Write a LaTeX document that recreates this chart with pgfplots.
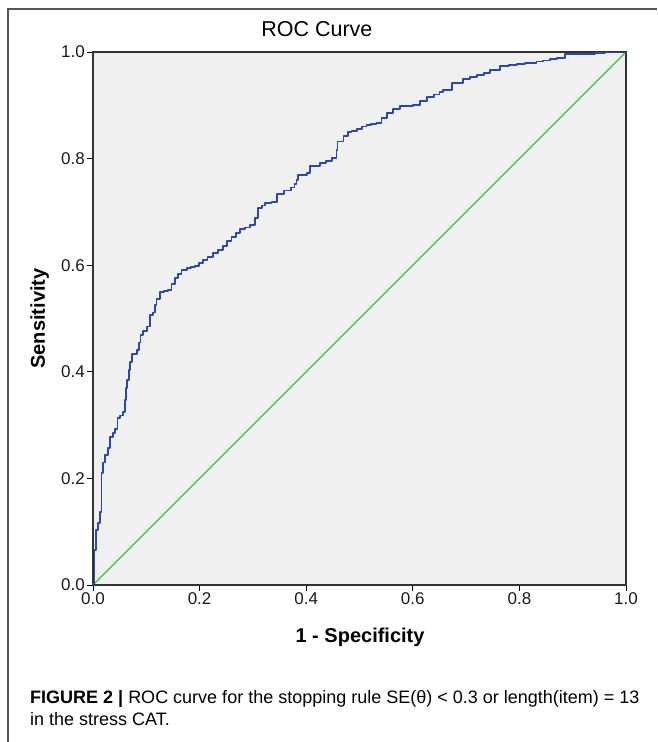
\documentclass[border=0pt]{standalone}
\usepackage{fontspec}
\setmainfont{Liberation Sans}
\usepackage{pgfplots}
\pgfplotsset{compat=1.18}
\definecolor{roccurve}{RGB}{44,70,170}
\definecolor{refline}{RGB}{62,190,72}
\definecolor{plotbg}{RGB}{240,240,240}
\definecolor{framegray}{RGB}{85,85,85}

% ROC points (1 - specificity, sensitivity)
\pgfplotstableread{
x y
0.000 0.000
0.003 0.066
0.005 0.103
0.009 0.116
0.013 0.137
0.016 0.210
0.019 0.230
0.022 0.244
0.028 0.257
0.032 0.278
0.038 0.285
0.041 0.293
0.046 0.313
0.051 0.318
0.056 0.325
0.060 0.347
0.062 0.370
0.064 0.385
0.068 0.403
0.070 0.418
0.073 0.433
0.082 0.441
0.086 0.455
0.089 0.469
0.094 0.477
0.101 0.485
0.107 0.507
0.113 0.511
0.116 0.525
0.119 0.537
0.126 0.550
0.133 0.551
0.141 0.553
0.147 0.565
0.154 0.576
0.160 0.583
0.166 0.591
0.176 0.595
0.184 0.597
0.191 0.598
0.199 0.604
0.206 0.610
0.215 0.616
0.225 0.623
0.235 0.629
0.244 0.636
0.252 0.645
0.260 0.653
0.268 0.661
0.276 0.668
0.285 0.671
0.295 0.675
0.304 0.689
0.310 0.707
0.317 0.712
0.323 0.717
0.335 0.718
0.345 0.733
0.358 0.740
0.372 0.746
0.378 0.752
0.382 0.760
0.385 0.769
0.401 0.773
0.407 0.786
0.426 0.792
0.437 0.796
0.448 0.801
0.457 0.816
0.459 0.832
0.470 0.842
0.478 0.850
0.485 0.852
0.495 0.856
0.505 0.860
0.513 0.863
0.522 0.865
0.532 0.867
0.541 0.876
0.551 0.886
0.563 0.893
0.576 0.899
0.600 0.900
0.613 0.908
0.626 0.916
0.640 0.920
0.650 0.925
0.657 0.929
0.673 0.942
0.694 0.949
0.707 0.953
0.720 0.957
0.733 0.961
0.745 0.966
0.764 0.974
0.780 0.975
0.795 0.977
0.810 0.979
0.820 0.980
0.832 0.982
0.844 0.984
0.857 0.987
0.870 0.989
0.886 0.996
0.942 0.998
0.960 1.000
1.000 1.000
}\roctable

\begin{document}
\begin{tikzpicture}[x=1pt,y=1pt]
\useasboundingbox (0,0) rectangle (657,-742);
\draw[framegray, line width=1.2pt] (8,-742) -- (8,-9) -- (657,-9);
\begin{axis}[
  at={(93pt,-585pt)}, anchor=south west,
  scale only axis, width=533pt, height=533pt,
  xmin=0, xmax=1, ymin=0, ymax=1,
  axis background/.style={fill=plotbg},
  axis line style={black!80, line width=1.3pt},
  xtick={0,0.2,0.4,0.6,0.8,1}, ytick={0,0.2,0.4,0.6,0.8,1},
  xtick pos=bottom, ytick pos=left, tick align=outside,
  major tick length=6pt, tick style={black, line width=1pt},
  /pgf/number format/.cd, fixed, fixed zerofill, precision=1, assume math mode=true, /pgfplots/.cd,
  tick label style={font=\fontsize{17}{17}\selectfont, black!90},
  xticklabel style={inner sep=1pt},
  yticklabel style={inner sep=2pt},
  title={ROC Curve},
  title style={at={(0.42,1.031)}, anchor=center, font=\fontsize{21.5}{21.5}\selectfont},
  xlabel={1 - Specificity},
  xlabel style={at={(0.501,-0.107)}, anchor=base, font=\fontsize{20}{20}\selectfont\bfseries},
  ylabel={Sensitivity},
  ylabel style={at={(-0.100,0.5)}, anchor=center, rotate=0, font=\fontsize{20}{20}\selectfont\bfseries},
]
\addplot[refline, line width=1.1pt] coordinates {(0,0) (1,1)};
\addplot[roccurve, line width=1.7pt, const plot, line join=round] table[x=x, y=y] {\roctable};
\end{axis}
\node[anchor=base west, font=\fontsize{18}{18}\selectfont, inner sep=0pt] at (30,-703)
  {\textbf{FIGURE 2 |} ROC curve for the stopping rule SE(θ) < 0.3 or length(item) = 13};
\node[anchor=base west, font=\fontsize{18}{18}\selectfont, inner sep=0pt] at (30,-725)
  {in the stress CAT.};
\end{tikzpicture}
\end{document}
